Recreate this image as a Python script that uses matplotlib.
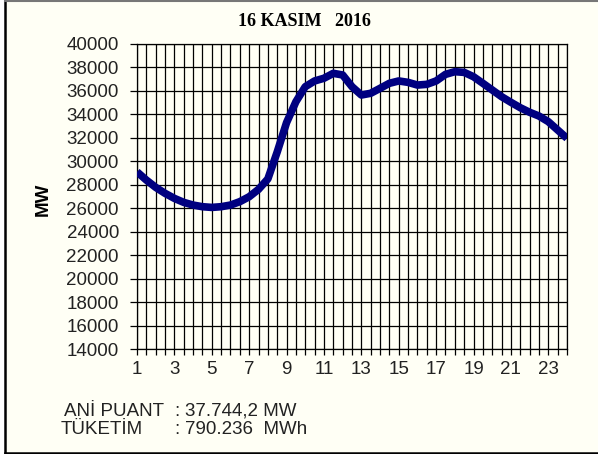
import numpy as np
import matplotlib
matplotlib.use("Agg")
import matplotlib.pyplot as plt
from matplotlib.patches import Rectangle

plt.rcParams['font.family'] = ['Liberation Sans', 'DejaVu Sans']

# saatlik tüketim (yarım saat aralıklarla okunmuş)
saat = [1, 1.5, 2, 2.5, 3, 3.5, 4, 4.5, 5, 5.5, 6, 6.5, 7, 7.5, 8, 8.5,
        9, 9.5, 10, 10.5, 11, 11.5, 12, 12.5, 13, 13.5, 14, 14.5, 15, 15.5,
        16, 16.5, 17, 17.5, 18, 18.5, 19, 19.5, 20, 20.5, 21, 21.5, 22, 22.5,
        23, 23.5, 24]
yuk = [29100, 28400, 27780, 27270, 26840, 26500, 26270, 26130, 26070, 26130,
       26270, 26560, 26980, 27610, 28500, 30800, 33300, 35080, 36360, 36850,
       37080, 37500, 37360, 36360, 35650, 35800, 36220, 36650, 36850, 36730,
       36500, 36560, 36850, 37410, 37640, 37580, 37210, 36650, 36080, 35510,
       35030, 34570, 34180, 33860, 33380, 32670, 31960]
xetiket = [1, 3, 5, 7, 9, 11, 13, 15, 17, 19, 21, 23]
yetiket = list(range(14000, 40001, 2000))

baslik = '16 KASIM   2016'
puant = '37.744,2 MW'
tuketim = '790.236  MWh'

bg = '#FFFFF5'
yazi = '#222222'
fs = 13.5

fig = plt.figure(figsize=(5.98, 4.54), dpi=100, facecolor='white')
fig.patches.append(Rectangle((6/598, 1/454), 592/598, 452/454, transform=fig.transFigure,
                             facecolor=bg, edgecolor='none', zorder=-2))
fig.add_artist(plt.Line2D([5/598, 5/598], [1/454, 453/454], color='black', lw=1.8,
                          transform=fig.transFigure))
fig.add_artist(plt.Line2D([5/598, 1], [1.5/454, 1.5/454], color='black', lw=1.8,
                          transform=fig.transFigure))
fig.add_artist(plt.Line2D([5/598, 1], [453.5/454, 453.5/454], color='#777777', lw=1.5,
                          transform=fig.transFigure))

ax = fig.add_axes([137/598, 105/454, 430/598, 305/454])
ax.set_facecolor(bg)
ax.plot(saat, yuk, color='#000080', lw=5.5, solid_joinstyle='round', solid_capstyle='butt', zorder=3)

ax.set_xlim(1, 24)
ax.set_ylim(14000, 40000)
ax.set_xticks(xetiket)
ax.set_xticks(np.arange(1, 24.01, 0.5), minor=True)
ax.set_yticks(yetiket)
ax.grid(True, which='both', color='black', lw=0.9)
ax.tick_params(axis='x', which='both', length=4, width=0.9, color='black', labelsize=fs, pad=5)
ax.tick_params(axis='y', length=5, width=0.9, color='black', labelsize=fs, pad=8)
for sp in ax.spines.values():
    sp.set_color('black')
    sp.set_linewidth(0.9)
for t in ax.get_xticklabels() + ax.get_yticklabels():
    t.set_color(yazi)

ax.set_ylabel('MW', fontsize=13.5, fontweight='bold')
ax.yaxis.set_label_coords(-0.198, 0.49)

fig.text(304/598, 1 - 22/454, baslik, ha='center', va='center', fontsize=13,
         fontweight='bold', family='Liberation Serif')

fig.text(64/598, 1 - 411/454, 'ANİ PUANT', ha='left', va='center', fontsize=fs, color=yazi)
fig.text(61/598, 1 - 430/454, 'TÜKETİM', ha='left', va='center', fontsize=fs, color=yazi)
fig.text(177/598, 1 - 411/454, ':', ha='center', va='center', fontsize=fs, color=yazi)
fig.text(177/598, 1 - 430/454, ':', ha='center', va='center', fontsize=fs, color=yazi)
fig.text(185/598, 1 - 411/454, puant, ha='left', va='center', fontsize=fs, color=yazi)
fig.text(185/598, 1 - 430/454, tuketim, ha='left', va='center', fontsize=fs, color=yazi)

fig.savefig('out.png', dpi=100, facecolor=fig.get_facecolor())
